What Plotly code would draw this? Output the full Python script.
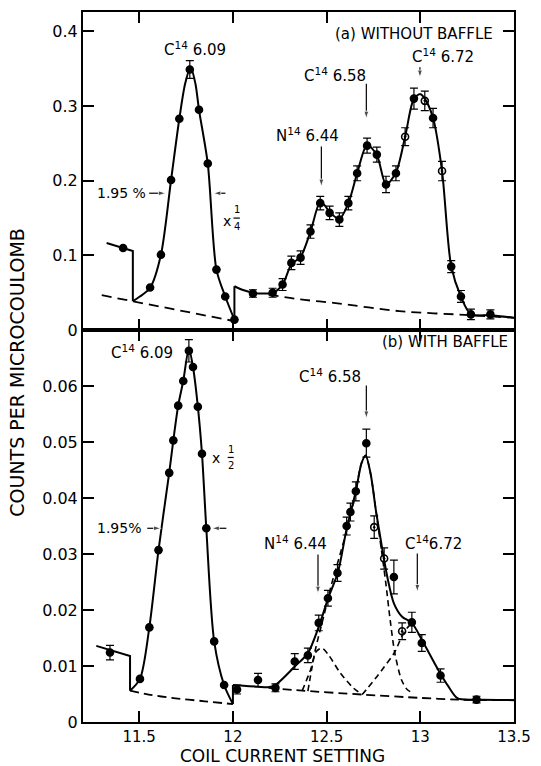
import plotly.graph_objects as go

# ---------------- panel (a): without baffle ----------------
a_x = [11.414, 11.558, 11.616, 11.670, 11.714, 11.770, 11.819, 11.866, 11.912, 11.959,
       12.008, 12.107, 12.212, 12.265, 12.312, 12.361, 12.414, 12.466, 12.516, 12.568,
       12.616, 12.663, 12.716, 12.768, 12.817, 12.870, 12.919, 12.966, 13.024, 13.068,
       13.116, 13.165, 13.217, 13.270, 13.374]
a_y = [0.110, 0.057, 0.101, 0.201, 0.283, 0.349, 0.295, 0.223, 0.081, 0.045,
       0.014, 0.049, 0.050, 0.061, 0.090, 0.097, 0.132, 0.170, 0.157, 0.148,
       0.170, 0.210, 0.247, 0.235, 0.195, 0.210, 0.259, 0.310, 0.307, 0.284,
       0.213, 0.085, 0.045, 0.021, 0.021]
a_err = [0, 0, 0, 0, 0, 0.012, 0, 0, 0, 0,
         0, 0.005, 0.006, 0.008, 0.009, 0.009, 0.009, 0.009, 0.009, 0.009,
         0.009, 0.010, 0.010, 0.010, 0.011, 0.010, 0.012, 0.014, 0.013, 0.013,
         0.013, 0.008, 0.008, 0.007, 0.006]
a_hollow = [0, 0, 0, 0, 0, 0, 0, 0, 0, 0,
            0, 0, 0, 0, 0, 0, 0, 0, 0, 0,
            0, 0, 0, 0, 0, 0, 1, 0, 1, 0,
            1, 0, 0, 0, 0]

# drawn fit curves of panel (a)
a_step_l_x = [11.326, 11.466, 11.466]
a_step_l_y = [0.1166, 0.106, 0.0387]
a_peak_x = [11.466, 11.519, 11.558, 11.616, 11.670, 11.714, 11.745, 11.774, 11.800,
            11.819, 11.866, 11.912, 11.959, 12.008]
a_peak_y = [0.0387, 0.0476, 0.0565, 0.101, 0.201, 0.283, 0.330, 0.352, 0.330,
            0.295, 0.2226, 0.081, 0.045, 0.014]
a_step_r_x = [12.008, 12.008]
a_step_r_y = [0.014, 0.0587]
a_right_x = [12.008, 12.05, 12.107, 12.16, 12.212, 12.265, 12.312, 12.361, 12.414,
             12.466, 12.49, 12.516, 12.568, 12.616, 12.663, 12.716, 12.768, 12.817,
             12.870, 12.919, 12.966, 13.0, 13.024, 13.068, 13.116, 13.165, 13.217,
             13.27, 13.374, 13.5]
a_right_y = [0.0587, 0.054, 0.050, 0.049, 0.050, 0.061, 0.088, 0.098, 0.132,
             0.172, 0.167, 0.158, 0.149, 0.170, 0.210, 0.248, 0.2346, 0.195,
             0.211, 0.259, 0.310, 0.316, 0.310, 0.284, 0.213, 0.0854, 0.0445,
             0.021, 0.020, 0.0164]
a_bg_l_x = [11.30, 11.466, 11.73, 12.008]
a_bg_l_y = [0.0467, 0.0387, 0.0254, 0.012]
a_bg_r_x = [12.19, 12.361, 12.537, 12.887, 13.27, 13.5]
a_bg_r_y = [0.0476, 0.041, 0.0365, 0.0254, 0.0200, 0.0164]

# ---------------- panel (b): with baffle ----------------
b_x = [11.344, 11.504, 11.554, 11.603, 11.660, 11.682, 11.708, 11.735, 11.765, 11.787,
       11.813, 11.835, 11.858, 11.900, 11.953, 12.022, 12.134, 12.227, 12.330, 12.400,
       12.458, 12.507, 12.558, 12.607, 12.627, 12.656, 12.712, 12.754, 12.807, 12.859,
       12.903, 12.955, 13.008, 13.108, 13.300]
b_y = [0.0124, 0.0077, 0.0169, 0.0307, 0.0445, 0.0503, 0.0565, 0.0609, 0.0663, 0.0634,
       0.0563, 0.0479, 0.0346, 0.0144, 0.0066, 0.0058, 0.0075, 0.0061, 0.0108, 0.0119,
       0.0177, 0.0221, 0.0266, 0.0350, 0.0375, 0.0412, 0.0498, 0.0348, 0.0292, 0.0259,
       0.0162, 0.0178, 0.0141, 0.0083, 0.0040]
b_err = [0.0013, 0, 0, 0, 0, 0, 0, 0, 0.0020, 0,
         0, 0, 0, 0, 0, 0.0008, 0.0012, 0.0007, 0.0014, 0.0013,
         0.0014, 0.0014, 0.0015, 0.0016, 0.0016, 0.0017, 0.0025, 0.0020, 0.0019, 0.0030,
         0.0015, 0.0018, 0.0015, 0.0012, 0.0006]
b_hollow = [0, 0, 0, 0, 0, 0, 0, 0, 0, 0,
            0, 0, 0, 0, 0, 0, 0, 0, 0, 0,
            0, 0, 0, 0, 0, 0, 0, 1, 1, 0,
            1, 0, 0, 0, 0]

# drawn fit curves of panel (b)
b_step_l_x = [11.271, 11.451, 11.451]
b_step_l_y = [0.0136, 0.0118, 0.0056]
b_peak_x = [11.451, 11.504, 11.554, 11.603, 11.660, 11.682, 11.708, 11.735, 11.765,
            11.787, 11.813, 11.835, 11.858, 11.900, 11.953, 12.0]
b_peak_y = [0.0056, 0.0077, 0.0169, 0.0307, 0.0445, 0.0503, 0.0565, 0.0609, 0.0666,
            0.0634, 0.0563, 0.0479, 0.0346, 0.0144, 0.0066, 0.0032]
b_step_r_x = [12.0, 12.0]
b_step_r_y = [0.0032, 0.0066]
b_right_x = [12.0, 12.04, 12.134, 12.187, 12.23, 12.33, 12.4, 12.458, 12.507, 12.56,
             12.607, 12.656, 12.686, 12.708, 12.735, 12.763, 12.789, 12.824, 12.859,
             12.903, 12.955, 13.008, 13.096, 13.149, 13.2, 13.3, 13.5]
b_right_y = [0.0066, 0.0065, 0.0063, 0.0062, 0.0067, 0.0099, 0.0123, 0.0170, 0.0220, 0.0267,
             0.0345, 0.0412, 0.0462, 0.0476, 0.0443, 0.0378, 0.0325, 0.0259, 0.0212,
             0.0188, 0.0177, 0.0147, 0.0093, 0.0064, 0.0042, 0.0040, 0.0039]
b_bg_l_x = [11.451, 11.55, 11.674, 11.85, 12.0]
b_bg_l_y = [0.0056, 0.0049, 0.0043, 0.0037, 0.0032]
b_bg_r_x = [12.19, 12.37, 12.69, 13.0, 13.2, 13.5]
b_bg_r_y = [0.0061, 0.0056, 0.0049, 0.0043, 0.0040, 0.0039]
# resolved line components
n644_x = [12.37, 12.414, 12.445, 12.475, 12.51, 12.572, 12.642, 12.69]
n644_y = [0.0056, 0.0093, 0.0126, 0.0132, 0.0120, 0.0088, 0.0061, 0.0049]
c658_x = [12.40, 12.44, 12.484, 12.523, 12.563, 12.603, 12.646, 12.686, 12.708,
          12.735, 12.763, 12.80, 12.816, 12.84, 12.864, 12.90, 12.93, 12.96]
c658_y = [0.0055, 0.0129, 0.0188, 0.0242, 0.0289, 0.0337, 0.0396, 0.0462, 0.0476,
          0.0443, 0.0378, 0.0289, 0.0248, 0.0180, 0.0123, 0.0075, 0.0058, 0.0052]
c672_x = [12.69, 12.72, 12.768, 12.80, 12.864, 12.90, 12.93, 12.958]
c672_y = [0.0049, 0.0061, 0.0081, 0.0095, 0.0125, 0.0152, 0.0168, 0.0177]

FONT = "DejaVu Sans"
INK = "black"

fig = go.Figure()


def line(x, y, xa, ya, dash="solid", width=2.0, shape="linear"):
    fig.add_trace(go.Scatter(x=x, y=y, xaxis=xa, yaxis=ya, mode="lines",
                             line=dict(color=INK, width=width, dash=dash, shape=shape,
                                       smoothing=0.8),
                             hoverinfo="skip", showlegend=False))


def points(x, y, err, hollow, xa, ya):
    symbols = ["circle-open-dot" if h else "circle" for h in hollow]
    fig.add_trace(go.Scatter(
        x=x, y=y, xaxis=xa, yaxis=ya, mode="markers",
        marker=dict(color=INK, size=7, symbol=symbols, line=dict(color=INK, width=1.6)),
        error_y=dict(type="data", array=err, visible=True, color=INK,
                     thickness=1.2, width=4),
        showlegend=False))


def arrow(x0, y0, x1, y1, xa, ya):
    # pointer: a thin shaft with an arrowhead marker turned along the shaft
    fig.add_trace(go.Scatter(
        x=[x0, x1], y=[y0, y1], xaxis=xa, yaxis=ya, mode="lines+markers",
        line=dict(color=INK, width=1.2),
        marker=dict(symbol="arrow", size=[0, 8], angleref="previous", color=INK),
        hoverinfo="skip", showlegend=False))


# panel (a)
line(a_bg_l_x, a_bg_l_y, "x", "y", dash="10px,6px", width=1.8)
line(a_bg_r_x, a_bg_r_y, "x", "y", dash="10px,6px", width=1.8, shape="spline")
line(a_step_l_x, a_step_l_y, "x", "y")
line(a_peak_x, a_peak_y, "x", "y", shape="spline")
line(a_step_r_x, a_step_r_y, "x", "y")
line(a_right_x, a_right_y, "x", "y", shape="spline")
points(a_x, a_y, a_err, a_hollow, "x", "y")

# panel (b)
line(b_bg_l_x, b_bg_l_y, "x2", "y2", dash="9px,5px", width=1.8, shape="spline")
line(b_bg_r_x, b_bg_r_y, "x2", "y2", dash="9px,5px", width=1.8, shape="spline")
line(n644_x, n644_y, "x2", "y2", dash="6px,4px", width=1.6, shape="spline")
line(c658_x, c658_y, "x2", "y2", dash="6px,4px", width=1.6, shape="spline")
line(c672_x, c672_y, "x2", "y2", dash="6px,4px", width=1.6, shape="spline")
line(b_step_l_x, b_step_l_y, "x2", "y2")
line(b_peak_x, b_peak_y, "x2", "y2", shape="spline")
line(b_step_r_x, b_step_r_y, "x2", "y2")
line(b_right_x, b_right_y, "x2", "y2", shape="spline")
points(b_x, b_y, b_err, b_hollow, "x2", "y2")

# peak pointers and width markers
arrow(12.998, 0.352, 12.998, 0.338, "x", "y")
arrow(12.712, 0.330, 12.712, 0.283, "x", "y")
arrow(12.472, 0.246, 12.472, 0.192, "x", "y")
arrow(11.553, 0.1833, 11.643, 0.1833, "x", "y")
arrow(11.960, 0.1833, 11.895, 0.1833, "x", "y")
arrow(12.712, 0.0601, 12.712, 0.0542, "x2", "y2")
arrow(12.454, 0.0299, 12.454, 0.0229, "x2", "y2")
arrow(12.984, 0.0301, 12.984, 0.0232, "x2", "y2")
arrow(11.543, 0.0346, 11.617, 0.0346, "x2", "y2")
arrow(11.965, 0.0346, 11.887, 0.0346, "x2", "y2")

ann = []


def label(text, x, y, xr, yr, size=15, xanchor="center"):
    ann.append(dict(text=text, x=x, y=y, xref=xr, yref=yr, showarrow=False,
                    xanchor=xanchor, yanchor="middle",
                    font=dict(family=FONT, size=size, color=INK)))


# panel (a) labels
label("C<sup>14</sup> 6.09", 11.795, 0.376, "x", "y")
label("(a) WITHOUT BAFFLE", 13.40, 0.397, "x", "y", xanchor="right")
label("C<sup>14</sup> 6.72", 13.12, 0.367, "x", "y")
label("C<sup>14</sup> 6.58", 12.544, 0.342, "x", "y")
label("N<sup>14</sup> 6.44", 12.40, 0.261, "x", "y")
label("1.95 %", 11.545, 0.183, "x", "y", size=14, xanchor="right")
label("x", 11.971, 0.146, "x", "y", size=14)
label("1", 12.02, 0.161, "x", "y", size=10)
label("4", 12.02, 0.139, "x", "y", size=10)

# panel (b) labels
label("C<sup>14</sup> 6.09", 11.515, 0.0660, "x2", "y2")
label("(b) WITH BAFFLE", 13.48, 0.0678, "x2", "y2", xanchor="right")
label("C<sup>14</sup> 6.58", 12.519, 0.0618, "x2", "y2")
label("N<sup>14</sup> 6.44", 12.333, 0.0319, "x2", "y2")
label("C<sup>14</sup>6.72", 13.07, 0.0319, "x2", "y2")
label("1.95%", 11.52, 0.0346, "x2", "y2", size=14, xanchor="right")
label("x", 11.909, 0.0471, "x2", "y2", size=14)
label("1", 11.988, 0.0486, "x2", "y2", size=10)
label("2", 11.988, 0.0459, "x2", "y2", size=10)

# axis titles
ann.append(dict(text="COUNTS PER MICROCOULOMB", x=-0.153, y=0.492, xref="paper",
                yref="paper", textangle=-90, showarrow=False, xanchor="center",
                yanchor="middle", font=dict(family=FONT, size=19, color=INK)))
ann.append(dict(text="COIL CURRENT SETTING", x=0.463, y=-0.0485, xref="paper",
                yref="paper", showarrow=False, xanchor="center", yanchor="middle",
                font=dict(family=FONT, size=17, color=INK)))

fig.update_layout(annotations=ann)

# short bars of the hand-lettered fractions
fig.add_shape(type="line", x0=12.003, x1=12.037, y0=0.150, y1=0.150,
              xref="x", yref="y", line=dict(color=INK, width=1.2))
fig.add_shape(type="line", x0=11.972, x1=12.004, y0=0.04725, y1=0.04725,
              xref="x2", yref="y2", line=dict(color=INK, width=1.2))

axis_common = dict(showline=True, linewidth=2, linecolor=INK, mirror="ticks",
                   ticks="inside", ticklen=11, tickwidth=1.5, tickcolor=INK,
                   showgrid=False, zeroline=False,
                   tickfont=dict(family=FONT, size=16, color=INK))
x_ticks = dict(axis_common, tickfont=dict(family=FONT, size=15, color=INK))

split = 0.552
fig.update_layout(
    width=541, height=766,
    margin=dict(l=83, r=21, t=10, b=44),
    paper_bgcolor="white", plot_bgcolor="white",
    showlegend=False,
    xaxis=dict(domain=[0, 1], range=[11.2, 13.5], anchor="y",
               tickvals=[11.5, 12, 12.5, 13], showticklabels=False, **x_ticks),
    yaxis=dict(domain=[split, 1], range=[0, 0.426], anchor="x",
               tickvals=[0, 0.1, 0.2, 0.3, 0.4],
               ticktext=["0", "0.1", "0.2", "0.3", "0.4"], **axis_common),
    xaxis2=dict(domain=[0, 1], range=[11.2, 13.5], anchor="y2",
                tickvals=[11.5, 12, 12.5, 13, 13.5],
                ticktext=["11.5", "12", "12.5", "13", "13.5"], **x_ticks),
    yaxis2=dict(domain=[0, split], range=[0, 0.070], anchor="x2",
                tickvals=[0, 0.01, 0.02, 0.03, 0.04, 0.05, 0.06],
                ticktext=["0", "0.01", "0.02", "0.03", "0.04", "0.05", "0.06"],
                **axis_common),
)

fig.write_html("out.html")
